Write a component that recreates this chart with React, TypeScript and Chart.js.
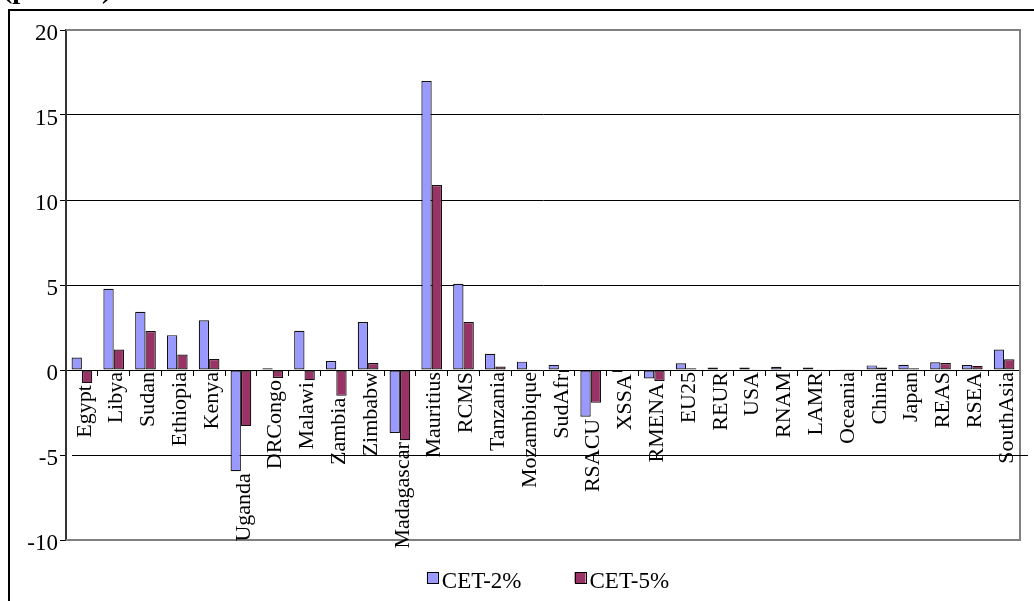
import React, { useEffect, useRef } from "react";
import { Chart, registerables } from "chart.js";

Chart.register(...registerables);

const categories = [
  "Egypt", "Libya", "Sudan", "Ethiopia", "Kenya", "Uganda", "DRCongo", "Malawi",
  "Zambia", "Zimbabw", "Madagascar", "Mauritius", "RCMS", "Tanzania", "Mozambique",
  "SudAfr", "RSACU", "XSSA", "RMENA", "EU25", "REUR", "USA", "RNAM", "LAMR",
  "Oceania", "China", "Japan", "REAS", "RSEA", "SouthAsia",
];

const cet2 = [
  0.73, 4.78, 3.42, 2.05, 2.92, -5.95, 0.1, 2.31, 0.53, 2.82, -3.7, 17.0, 5.07, 0.95, 0.49,
  0.3, -2.75, -0.12, -0.5, 0.39, 0.15, 0.15, 0.19, 0.15, 0.04, 0.27, 0.31, 0.45, 0.29, 1.2,
];

const cet5 = [
  -0.77, 1.2, 2.29, 0.91, 0.65, -3.3, -0.47, -0.6, -1.52, 0.41, -4.13, 10.88, 2.82, 0.21, 0.04,
  -0.12, -1.92, -0.03, -0.65, 0.1, 0.03, 0.04, 0.03, 0.05, 0.04, 0.15, 0.1, 0.41, 0.24, 0.63,
];

const seriesNames = ["CET-2%", "CET-5%"];
const seriesColors = ["#9999FF", "#993366"];

const yMin = -10;
const yMax = 20;
const yStep = 5;
const gridValues = [5, 10, 15];
const extendedLineValue = -5;

const FONT = '"Liberation Serif", "Times New Roman", serif';

const decor = {
  id: "decor",
  beforeDraw(chart: any) {
    const { ctx, width, height } = chart;
    ctx.save();
    ctx.fillStyle = "#fff";
    ctx.fillRect(0, 0, width, height);
    ctx.fillStyle = "#000";
    ctx.fillRect(8, 9, width - 8, 2);
    ctx.fillRect(8, 9, 2, height - 9);
    ctx.restore();
  },
  beforeDatasetsDraw(chart: any) {
    const { ctx, chartArea: a, scales } = chart;
    ctx.save();
    ctx.strokeStyle = "#808080";
    ctx.lineWidth = 2;
    ctx.beginPath();
    ctx.moveTo(a.left, a.top);
    ctx.lineTo(a.right, a.top);
    ctx.lineTo(a.right, a.bottom);
    ctx.lineTo(a.left, a.bottom);
    ctx.stroke();
    const py = Math.round(scales.y.getPixelForValue(extendedLineValue)) + 0.5;
    ctx.strokeStyle = "#000";
    ctx.lineWidth = 1;
    ctx.beginPath();
    ctx.moveTo(a.left + 6, py);
    ctx.lineTo(a.right + 8, py);
    ctx.stroke();
    ctx.restore();
  },
  afterDatasetsDraw(chart: any) {
    const { ctx, scales } = chart;
    const x = scales.x;
    const y = scales.y;
    const zero = y.getPixelForValue(0);
    ctx.save();
    ctx.font = `22px ${FONT}`;
    ctx.fillStyle = "#000";
    ctx.textAlign = "right";
    ctx.textBaseline = "middle";
    const labels = chart.data.labels as string[];
    labels.forEach((c, i) => {
      const lo = Math.min(0, ...chart.data.datasets.map((d: any) => d.data[i]));
      const py = Math.max(zero, y.getPixelForValue(lo)) + 2;
      const px = x.getPixelForValue(i) + 3;
      ctx.save();
      ctx.translate(px, py);
      ctx.rotate(-Math.PI / 2);
      ctx.fillText(c, 0, 0);
      ctx.restore();
    });
    ctx.restore();
  },
  afterDraw(chart: any) {
    const { ctx, chartArea: a } = chart;
    ctx.save();
    ctx.font = `23px ${FONT}`;
    const items = chart.data.datasets.map((d: any) => ({
      label: d.label,
      color: d.backgroundColor,
      w: ctx.measureText(d.label).width,
    }));
    const box = 11;
    const gap = 4;
    const sep = 53;
    const total =
      items.reduce((s: number, it: any) => s + box + gap + it.w, 0) + sep * (items.length - 1);
    let x = (a.left + a.right) / 2 + 5 - total / 2;
    const boxTop = a.bottom + 32;
    const baseline = a.bottom + 48;
    items.forEach((it: any) => {
      ctx.fillStyle = it.color;
      ctx.fillRect(x, boxTop, box, box);
      ctx.strokeStyle = "#000";
      ctx.lineWidth = 1;
      ctx.strokeRect(Math.round(x) + 0.5, boxTop + 0.5, box, box);
      ctx.fillStyle = "#000";
      ctx.textAlign = "left";
      ctx.textBaseline = "alphabetic";
      ctx.fillText(it.label, x + box + gap, baseline);
      x += box + gap + it.w + sep;
    });
    ctx.restore();
  },
};

export default function App() {
  const ref = useRef<HTMLCanvasElement | null>(null);

  useEffect(() => {
    if (!ref.current) return;
    const chart = new Chart(ref.current, {
      type: "bar",
      data: {
        labels: categories,
        datasets: [
          {
            label: seriesNames[0],
            data: cet2,
            backgroundColor: seriesColors[0],
            borderColor: "#111",
            borderWidth: 1.2,
            borderSkipped: false,
            categoryPercentage: 0.65,
            barPercentage: 1,
          },
          {
            label: seriesNames[1],
            data: cet5,
            backgroundColor: seriesColors[1],
            borderColor: "#111",
            borderWidth: 1.2,
            borderSkipped: false,
            categoryPercentage: 0.65,
            barPercentage: 1,
          },
        ],
      },
      options: {
        animation: false,
        responsive: false,
        devicePixelRatio: 1,
        layout: { padding: { top: 30, right: 14, bottom: 61, left: 0 } },
        plugins: {
          legend: { display: false },
          tooltip: { enabled: false },
        },
        scales: {
          x: {
            position: { y: 0 } as any,
            ticks: { display: false },
            grid: {
              display: true,
              drawOnChartArea: false,
              drawTicks: true,
              tickLength: 5,
              color: "#000",
              offset: true,
            },
            border: { color: "#000", width: 1 },
          },
          y: {
            min: yMin,
            max: yMax,
            ticks: {
              stepSize: yStep,
              color: "#000",
              font: { family: FONT, size: 23 },
              padding: 2,
              labelOffset: 4,
            },
            grid: {
              color: (c: any) =>
                c.tick && gridValues.includes(c.tick.value) ? "#000" : "rgba(0,0,0,0)",
              tickColor: "#000",
              tickLength: 6,
              lineWidth: 1,
            },
            border: { color: "#333", width: 2 },
            afterFit: (s: any) => {
              s.width = 66;
            },
          },
        },
      },
      plugins: [decor],
    });
    return () => chart.destroy();
  }, []);

  return (
    <div style={{ position: "absolute", left: 0, top: 0, width: 1034, height: 601, overflow: "hidden" }}>
      <canvas ref={ref} width={1034} height={601} style={{ display: "block" }} />
      <div
        style={{
          position: "absolute",
          left: 3,
          top: -25,
          fontFamily: FONT,
          fontWeight: "bold",
          fontSize: 28,
          lineHeight: "28px",
          whiteSpace: "nowrap",
        }}
      >
        (percent)
      </div>
    </div>
  );
}
